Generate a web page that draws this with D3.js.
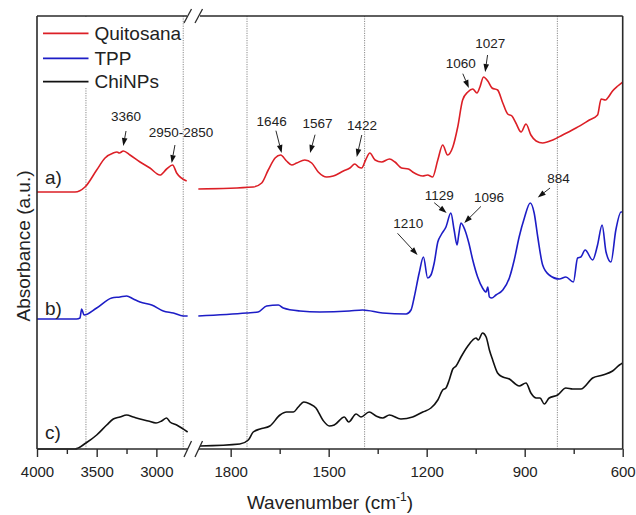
<!DOCTYPE html>
<html><head><meta charset="utf-8">
<script src="https://cdn.jsdelivr.net/npm/d3@7"></script>
<style>
body{margin:0;background:#fff;}
svg{display:block;}
text{font-family:"Liberation Sans",Arial,sans-serif;fill:#222;}
</style>
</head><body><svg id="c" width="636" height="515"></svg>
<script>
// ---------- DATA (wavenumber cm-1, absorbance a.u. incl. vertical offset) ----------
const quitosanaHigh = [[4000,257],[3682,257],[3598,262],[3500,279],[3430,291],[3361,296],[3330,297],[3310,296],[3277,298],[3221,294],[3137,287],[3054,281],[2970,274],[2914,280],[2864,284],[2830,276],[2746,268]];
const quitosanaLow = [[1899,260],[1731,262],[1705,266],[1685,279],[1664,291],[1647,294],[1629,288],[1613,284],[1598,286],[1573,289],[1552,286],[1532,277],[1506,272],[1486,273],[1455,278],[1435,281],[1420,285],[1409,282],[1399,281],[1387,289],[1374,296],[1358,289],[1338,287],[1314,290],[1297,287],[1277,281],[1256,280],[1243,277],[1212,273],[1197,274],[1182,272],[1166,289],[1151,304],[1136,294],[1120,302],[1105,322],[1090,349],[1074,357],[1059,360],[1046,356],[1037,362],[1026,372],[1013,368],[1000,361],[983,359],[967,346],[952,335],[939,333],[927,326],[911,317],[896,325],[881,314],[865,308],[845,306],[814,309],[784,314],[743,321],[702,329],[677,334],[666,350],[653,349],[646,351],[631,358],[615,363],[600,367]];
const tppHigh = [[4000,130],[3668,130],[3640,131],[3626,140],[3606,134],[3500,141],[3374,151],[3305,152],[3249,153],[3193,150],[3137,147],[3039,144],[2942,138],[2858,136],[2775,133],[2738,133]];
const tppLow = [[1899,133],[1751,136],[1716,137],[1690,143],[1654,144],[1639,141],[1588,138],[1527,137],[1437,138],[1396,139],[1335,136],[1263,135],[1248,139],[1238,152],[1223,176],[1210,192],[1197,171],[1187,174],[1177,186],[1166,207],[1156,214],[1141,222],[1126,236],[1116,219],[1107,204],[1102,214],[1095,226],[1083,219],[1071,206],[1059,189],[1044,172],[1029,161],[1018,157],[1013,162],[1008,152],[1001,151],[988,154],[967,159],[947,171],[932,189],[917,212],[901,231],[883,246],[871,236],[860,212],[845,184],[825,174],[794,170],[774,172],[751,167],[738,191],[728,192],[715,199],[692,189],[677,204],[663,224],[651,197],[636,187],[621,219],[605,237],[600,237]];
const chinpsHigh = [[4000,0],[3682,0],[3590,6],[3500,14],[3416,24],[3361,30],[3305,32],[3249,34],[3193,32],[3137,30],[3068,28],[3003,26],[2956,28],[2914,31],[2886,27],[2830,24],[2788,21],[2738,17]];
const chinpsLow = [[1894,3],[1772,5],[1746,9],[1731,17],[1710,20],[1680,23],[1649,34],[1629,37],[1608,37],[1593,42],[1576,47],[1557,45],[1539,41],[1518,29],[1498,23],[1483,24],[1452,32],[1439,27],[1416,35],[1401,32],[1376,37],[1355,33],[1335,31],[1314,34],[1279,30],[1243,32],[1212,37],[1187,41],[1166,49],[1151,59],[1141,61],[1131,69],[1120,80],[1110,83],[1095,92],[1074,103],[1059,109],[1049,111],[1042,109],[1029,116],[1018,112],[1008,99],[998,89],[983,76],[967,72],[947,70],[932,66],[917,63],[896,66],[881,56],[865,51],[853,51],[840,45],[825,51],[799,54],[774,61],[753,60],[728,60],[692,71],[661,74],[631,78],[610,84],[600,86]];

const seriesNames = ["Quitosana","TPP","ChiNPs"];
const seriesTags = ["a)","b)","c)"];
const majorTicksHigh = [4000,3500,3000];
const minorTicksHigh = [3750,3250];
const majorTicksLow = [1800,1500,1200,900,600];
const minorTicksLow = [1650,1350,1050,750];
const guideLines = [3590,2775,1750,1390,800];
// peak labels: text, target wavenumber, target absorbance
const peakLabels = ["3360","2950-2850","1646","1567","1422","1060","1027","1210","1129","1096","884"];
const peakWn     = [3277,2872,1644,1557,1414,1071,1021,1228,1139,1085,860];
const peakAbs    = [303,286,296,296,292,361,377,194,236,226,251.5];

// ---------- LAYOUT ----------
const colors = ["#dc1f26","#1d1dc6","#111111"];
const svg = d3.select("#c");
const yTop = 16, yBot = 449, xL0 = 37, xL1 = 188.6, xR0 = 198, xR1 = 622.7;
const xHigh = d3.scaleLinear().domain([4000,2730]).range([xL0,xL1]);
const xLow = d3.scaleLinear().domain([1900,600]).range([xR0,xR1]);
const y = d3.scaleLinear().domain([0,433]).range([yBot,yTop]);
const xOf = wn => wn > 2000 ? xHigh(wn) : xLow(wn);

// dotted guide lines
svg.append("g").selectAll("line").data(guideLines).join("line")
  .attr("x1",d=>xOf(d)).attr("x2",d=>xOf(d)).attr("y1",yTop).attr("y2",yBot)
  .attr("stroke","#8a8a8a").attr("stroke-width",1).attr("stroke-dasharray","1.2,1.2");

// curves
const lineH = d3.line().x(d=>xHigh(d[0])).y(d=>y(d[1])).curve(d3.curveMonotoneX);
const lineL = d3.line().x(d=>xLow(d[0])).y(d=>y(d[1])).curve(d3.curveMonotoneX);
const segs = [[quitosanaHigh,quitosanaLow],[tppHigh,tppLow],[chinpsHigh,chinpsLow]];
segs.forEach((s,i)=>{
  svg.append("path").attr("d",lineH(s[0])).attr("fill","none").attr("stroke",colors[i]).attr("stroke-width",1.6);
  svg.append("path").attr("d",lineL(s[1])).attr("fill","none").attr("stroke",colors[i]).attr("stroke-width",1.6);
});

// frame
const fc = "#2a2a2a";
const fr = svg.append("g").attr("stroke",fc).attr("stroke-width",1.6).attr("fill","none");
fr.append("line").attr("x1",xL0).attr("x2",xL0).attr("y1",yTop).attr("y2",yBot);
fr.append("line").attr("x1",xR1).attr("x2",xR1).attr("y1",yTop).attr("y2",yBot);
fr.append("line").attr("x1",xL0).attr("x2",187).attr("y1",yTop).attr("y2",yTop);
fr.append("line").attr("x1",200).attr("x2",xR1).attr("y1",yTop).attr("y2",yTop);
fr.append("line").attr("x1",xL0).attr("x2",188).attr("y1",yBot).attr("y2",yBot);
fr.append("line").attr("x1",199).attr("x2",xR1).attr("y1",yBot).attr("y2",yBot);
// break marks
const brk = svg.append("g").attr("stroke",fc).attr("stroke-width",1.3);
[[yTop,7],[yBot,8]].forEach(([yy,h])=>{
  brk.append("line").attr("x1",184).attr("y1",yy+h).attr("x2",191.5).attr("y2",yy-h);
  brk.append("line").attr("x1",195).attr("y1",yy+h).attr("x2",202.5).attr("y2",yy-h);
});

// axes
function addAxis(scale, major, minor){
  const g1 = svg.append("g").attr("transform",`translate(0,${yBot})`)
    .call(d3.axisBottom(scale).tickValues(major).tickSize(8).tickPadding(9).tickFormat(d3.format("d")));
  g1.select(".domain").remove();
  g1.selectAll("line").attr("stroke",fc).attr("stroke-width",1.4);
  g1.selectAll("text").attr("font-size",15).attr("fill","#222").style("font-family","'Liberation Sans',Arial,sans-serif");
  const g2 = svg.append("g").attr("transform",`translate(0,${yBot})`)
    .call(d3.axisBottom(scale).tickValues(minor).tickSize(5).tickFormat(""));
  g2.select(".domain").remove();
  g2.selectAll("line").attr("stroke",fc).attr("stroke-width",1.4);
}
addAxis(xHigh, majorTicksHigh, minorTicksHigh);
addAxis(xLow, majorTicksLow, minorTicksLow);

// axis titles
const xt = svg.append("text").attr("x",330).attr("y",509).attr("text-anchor","middle").attr("font-size",19);
xt.append("tspan").text("Wavenumber (cm");
xt.append("tspan").attr("dy",-8).attr("font-size",12).text("-1");
xt.append("tspan").attr("dy",8).text(")");
svg.append("text").attr("transform","translate(30,246) rotate(-90)").attr("text-anchor","middle")
  .attr("font-size",19).text("Absorbance (a.u.)");

// series tags
const tagY = [184,315,439];
seriesTags.forEach((t,i)=>svg.append("text").attr("x",45).attr("y",tagY[i]).attr("font-size",19).text(t));

// legend
svg.append("rect").attr("x",38).attr("y",17).attr("width",142).attr("height",71).attr("fill","#fff");
const legY = [33.3,58.3,81.7];
seriesNames.forEach((n,i)=>{
  svg.append("line").attr("x1",43).attr("x2",88.5).attr("y1",legY[i]).attr("y2",legY[i])
    .attr("stroke",colors[i]).attr("stroke-width",1.8);
  svg.append("text").attr("x",94.5).attr("y",legY[i]+6.7).attr("font-size",19).text(n);
});

// peak annotations (arrow offsets in px)
const tailOff = [[2.7,-15],[3.3,-18],[-5.7,-22.3],[5,-18.3],[5,-22],[-6,-14.3],[2.4,-17],[-20,-21.7],[-12.4,-10.3],[16.7,-16.6],[12.3,-9.5]];
const textOff = [[0,-10],[6,-8.3],[-4.3,-4.3],[2.5,-6.7],[0.3,-5],[-2,-5.7],[2.6,-6.7],[10.8,-5.6],[5,-2.3],[8,-4],[8.5,-5.3]];
const ann = svg.append("g");
peakLabels.forEach((lab,i)=>{
  const tx = xOf(peakWn[i]), ty = y(peakAbs[i]);
  const sx = tx + tailOff[i][0], sy = ty + tailOff[i][1];
  const dx = tx - sx, dy = ty - sy, L = Math.hypot(dx,dy), ux = dx/L, uy = dy/L;
  const hl = 8, hw = 2.8;
  const bx = tx - ux*hl, by = ty - uy*hl;
  ann.append("line").attr("x1",sx).attr("y1",sy).attr("x2",bx).attr("y2",by).attr("stroke","#111").attr("stroke-width",0.9);
  ann.append("path").attr("d",`M${tx},${ty}L${bx - uy*hw},${by + ux*hw}L${bx + uy*hw},${by - ux*hw}Z`).attr("fill","#111");
  ann.append("text").attr("x",sx+textOff[i][0]).attr("y",sy+textOff[i][1]).attr("text-anchor","middle")
    .attr("font-size",13.5).text(lab);
});
</script></body></html>
